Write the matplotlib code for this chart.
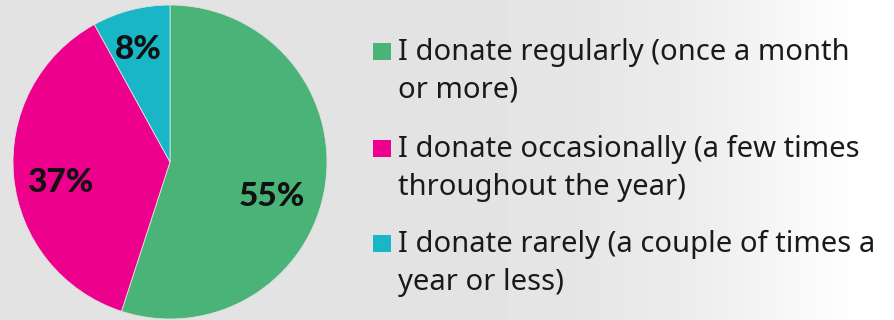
import numpy as np
import matplotlib.pyplot as plt
from matplotlib.patches import Rectangle

# donation frequency shares
categories = [
    "I donate regularly (once a month\nor more)",
    "I donate occasionally (a few times\nthroughout the year)",
    "I donate rarely (a couple of times a\nyear or less)",
]
shares = [55, 37, 8]
colors = ["#4ab377", "#ec008c", "#18b6c6"]

W, H = 894, 320
fig = plt.figure(figsize=(W / 100, H / 100), dpi=100)

# soft grey-to-white background
bg = fig.add_axes([0, 0, 1, 1])
xs = np.linspace(0, W, W)
shade = np.interp(xs, [0, 560, 700, 860, W], [0.89, 0.895, 0.93, 1.0, 1.0])
grad = np.tile(shade, (H, 1))
bg.imshow(grad, cmap="gray", vmin=0, vmax=1, aspect="auto", extent=[0, W, 0, H])
bg.set_xlim(0, W)
bg.set_ylim(0, H)
bg.axis("off")

# pie
cx, cy, r = 170, 162, 157
ax = fig.add_axes([(cx - r) / W, (H - cy - r) / H, 2 * r / W, 2 * r / H])
wedges, texts, autotexts = ax.pie(
    shares, colors=colors, startangle=90, counterclock=False,
    autopct=lambda p: f"{p:.0f}%", pctdistance=0.72,
    wedgeprops=dict(linewidth=0.6, edgecolor="#e0e0e0"),
    textprops=dict(fontsize=24, fontweight=900, family="Lato", color="#111111"),
)
ax.set_xlim(-1, 1)
ax.set_ylim(-1, 1)
ax.set_aspect("auto")
# nudge labels a little
x0, y0 = autotexts[0].get_position()
autotexts[0].set_position((x0 - 0.06, y0 - 0.11))
x1, y1 = autotexts[1].get_position()
autotexts[1].set_position((x1 + 0.02, y1 - 0.06))
x2, y2 = autotexts[2].get_position()
autotexts[2].set_position((x2 - 0.02, y2 + 0.02))

# legend drawn by hand so the marker sits on the first line
lx, sq = 373, 18
first_base = [60, 157, 252]
for label, col, yb in zip(categories, colors, first_base):
    bg.add_patch(Rectangle((lx, H - yb), sq, sq - 1, color=col, lw=0))
    for k, line in enumerate(label.split("\n")):
        bg.text(lx + 25, H - yb - k * 38, line, fontsize=21, family="Noto Sans",
                color="#1a1a1a", va="baseline", ha="left")

fig.savefig("out.png", dpi=100)
